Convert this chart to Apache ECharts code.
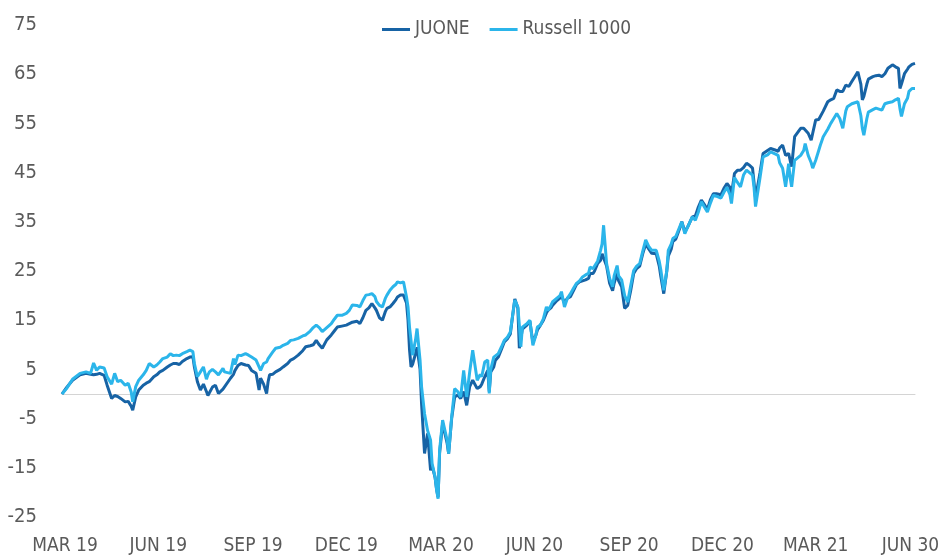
<!DOCTYPE html>
<html>
<head>
<meta charset="utf-8">
<script src="https://cdn.jsdelivr.net/npm/echarts@6/dist/echarts.min.js"></script>
<style>html,body{margin:0;padding:0;background:#fff}#c{width:942px;height:559px}</style>
</head>
<body>
<div id="c"></div>
<script>
// trading day index (0 = start, end of March 2019)
const days = [
  0,3,7,12,16,19,21,23,25,28,
  30,33,35,37,39,42,44,46,47,49,
  51,54,56,58,61,63,65,67,70,72,
  74,76,78,80,83,85,87,88,90,92,
  94,96,97,98,100,102,104,105,107,108,
  112,114,115,117,119,122,124,126,129,131,
  132,134,136,137,138,140,142,145,147,150,
  152,154,157,160,162,165,167,169,171,173,
  176,179,181,183,186,189,191,193,196,198,
  200,202,204,206,208,209,211,213,215,216,
  218,220,222,223,225,227,229,230,231,232,
  233,235,236,238,239,241,243,245,246,248,
  249,250,251,253,256,257,258,259,261,263,
  265,267,269,271,273,276,278,279,281,283,
  284,285,287,288,290,292,294,296,298,300,
  301,303,304,305,306,309,311,313,315,316,
  318,320,322,323,325,326,329,331,332,334,
  336,338,340,342,344,346,348,350,351,353,
  354,356,358,359,360,362,364,366,367,369,
  370,372,374,376,378,380,382,384,386,388,
  390,392,395,397,398,400,402,403,405,406,
  408,411,412,414,416,419,421,423,425,427,
  429,431,433,435,438,440,442,444,445,447,
  449,451,453,455,457,459,460,461,464,466,
  469,471,474,476,477,479,481,483,484,485,
  487,491,493,494,496,498,499,501,503,504,
  506,509,511,513,515,517,519,521,522,523,
  525,527,529,531,532,533,535,536,539,541,
  543,545,547,549,552,554,556,557,558,560,
  562,563,565,567
];

const russell = [
  0,1.1,3.0,4.2,4.5,4.2,6.3,4.8,5.5,5.3,
  3.5,2.0,4.2,2.5,2.8,1.8,2.2,0.4,-1.6,1.5,
  2.8,3.9,4.8,6.2,5.5,5.9,6.5,7.2,7.5,8.2,
  7.8,7.9,7.8,8.2,8.6,8.9,8.6,6.2,3.5,4.5,
  5.5,3.0,3.9,4.5,5.0,4.5,3.9,3.5,5.2,4.5,
  4.2,7.2,6.0,7.9,7.8,8.2,7.9,7.5,6.9,5.5,
  4.8,6.2,6.5,7.2,7.2,8.5,9.3,9.5,9.9,10.3,
  10.9,11.0,11.3,11.8,12.0,12.8,13.5,14.0,13.5,12.7,
  13.5,14.3,15.2,16.0,16.0,16.4,17.0,18.1,18.0,17.7,
  19.0,20.1,20.2,20.4,19.8,18.8,18.0,17.7,19.5,20.1,
  21.1,21.8,22.3,22.8,22.6,22.8,19.7,17.7,13.6,10.9,
  7.9,11.0,13.3,6.9,1.5,-4.0,-7.4,-9.4,-14.1,-16.9,
  -19.5,-21.3,-11.4,-5.3,-9.4,-12.1,-11.8,-4.7,1.1,0.5,
  -0.6,4.8,-0.6,4.5,8.9,2.8,4.0,3.5,6.5,6.9,
  0.1,5.0,7.5,7.8,8.2,9.5,10.9,11.5,12.6,17.0,
  19.1,17.7,14.0,9.6,13.6,14.3,15.0,9.9,12.0,13.6,
  14.0,15.3,17.7,17.0,18.0,18.7,19.5,20.0,20.8,17.7,
  19.5,20.4,21.5,22.5,23.0,23.8,24.2,24.5,25.8,25.5,
  25.1,27.0,29.2,30.5,34.3,26.5,23.5,21.8,24.0,26.1,
  24.0,23.2,20.0,18.7,22.0,25.1,26.0,26.5,29.0,31.3,
  30.0,29.2,29.2,27.0,25.3,21.1,25.0,29.2,30.5,31.6,
  32.0,34.3,35.0,32.6,34.0,36.0,35.3,37.0,39.1,38.0,
  37.0,38.8,40.4,40.2,39.8,41.0,42.0,40.5,38.7,44.0,
  43.0,42.1,44.5,45.5,45.0,44.5,42.0,38.1,44.0,48.2,
  48.6,49.2,48.8,48.5,47.0,45.9,42.1,46.8,44.0,42.1,
  47.5,48.5,49.5,50.9,48.5,47.0,45.9,47.5,49.5,50.5,
  52.3,53.8,55.0,56.0,57.0,56.0,54.0,57.5,58.4,58.5,
  59.0,59.2,59.4,56.6,54.0,52.6,56.0,57.3,57.8,58.1,
  57.9,57.7,59.0,59.2,59.4,59.8,60.1,58.0,56.4,59.0,
  60.1,61.5,62.1,62.1
];

const juone = [
  0,1.3,2.8,3.9,4.2,4.0,3.9,4.0,4.2,3.8,
  1.8,-0.9,-0.3,-0.5,-0.9,-1.6,-1.5,-2.5,-3.3,-0.6,
  0.8,1.8,2.2,2.5,3.5,3.9,4.5,4.8,5.5,5.9,
  6.2,6.2,6.0,6.6,7.2,7.5,7.6,5.5,2.5,0.8,
  2.0,0.5,-0.3,-0.6,1.4,1.8,0.1,-0.3,1.0,1.4,
  3.2,4.0,4.8,5.8,6.2,5.9,5.8,4.8,4.2,0.8,
  3.2,2.0,0.1,2.5,3.9,4.0,4.5,5.0,5.5,6.2,
  6.9,7.2,7.9,8.8,9.6,9.8,10.0,10.9,10.0,9.3,
  11.0,12.0,12.8,13.6,13.8,14.0,14.3,14.6,14.8,14.3,
  15.5,17.0,17.5,18.4,17.5,17.0,15.5,15.0,16.8,17.4,
  17.7,18.4,19.2,19.7,20.1,20.1,18.5,15.0,9.0,5.5,
  6.0,8.2,9.5,5.0,-1.9,-12.1,-8.0,-15.5,-14.5,-17.0,
  -19.4,-21.0,-12.0,-6.0,-10.0,-12.1,-11.8,-5.0,-0.6,-0.2,
  -0.9,0.5,-2.3,1.5,2.8,1.1,1.5,2.0,3.5,4.8,
  0.5,4.5,5.5,6.8,7.5,9.0,10.6,11.2,12.2,17.0,
  19.3,17.5,9.3,9.6,13.2,14.0,14.8,10.5,12.0,13.0,
  14.0,15.0,16.5,17.0,17.5,18.0,19.0,19.5,20.0,18.5,
  19.5,19.8,21.0,22.3,22.8,23.0,23.2,23.5,24.5,24.5,
  25.0,26.5,27.2,28.5,28.5,26.0,22.5,21.0,22.5,24.5,
  23.0,21.8,17.4,18.0,21.0,24.5,25.5,26.0,28.5,30.5,
  29.5,28.6,28.5,26.0,24.0,20.4,25.0,28.0,29.5,31.0,
  31.5,34.0,35.0,33.0,34.0,36.0,36.2,38.0,39.4,38.5,
  37.5,39.5,40.7,40.7,40.5,41.8,42.8,42.0,40.5,44.8,
  45.5,45.5,46.0,46.9,46.5,45.9,43.0,39.8,45.0,48.9,
  49.5,49.9,49.6,49.3,50.0,50.6,48.5,48.9,47.5,46.2,
  52.3,54.0,54.0,54.0,53.0,51.6,53.0,55.7,55.8,56.1,
  57.5,59.4,59.8,60.1,61.8,61.5,61.5,62.8,62.6,62.5,
  63.5,64.5,65.5,63.0,59.8,60.5,63.0,64.0,64.5,64.7,
  64.8,64.5,65.1,66.2,66.9,66.5,66.2,62.1,63.0,65.1,
  66.0,66.5,67.0,67.2
];

// quarter-end positions (trading day index) and their tick labels
const tickDays = [2,64,127,189,252,314,377,439,501,564];
const tickLabels = ['MAR 19','JUN 19','SEP 19','DEC 19','MAR 20','JUN 20','SEP 20','DEC 20','MAR 21','JUN 30'];

const seriesNames = ['JUONE','Russell 1000'];

const FONT = "'DejaVu Sans Condensed','Liberation Sans Narrow',sans-serif";
const TXT = '#5a5a5a';
const DARK = '#1763a5';
const LIGHT = '#2bb5ea';

const chart = echarts.init(document.getElementById('c'), null, {renderer:'canvas'});
chart.setOption({
  animation: false,
  backgroundColor: '#ffffff',
  legend: {
    left: 382, top: 20, padding: 0,
    icon: 'rect', itemWidth: 28, itemHeight: 3, itemGap: 20,
    textStyle: {fontFamily: FONT, fontSize: 19, color: TXT},
    data: seriesNames
  },
  grid: {left: 62, right: 27, top: 25, bottom: 42, outerBoundsMode: 'none'},
  xAxis: [
    {
      type: 'value', min: 0, max: 567,
      axisLine: {show: false, onZero: false},
      axisTick: {show: false},
      splitLine: {show: false},
      axisLabel: {
        customValues: tickDays,
        formatter: v => { const i = tickDays.indexOf(v); return i >= 0 ? tickLabels[i] : ''; },
        fontFamily: FONT, fontSize: 19, color: TXT, margin: 20
      }
    },
    {
      type: 'value', min: 0, max: 567, position: 'top',
      axisLine: {show: true, onZero: true, lineStyle: {color: '#d4d4d4', width: 1}},
      axisTick: {show: false},
      axisLabel: {show: false},
      splitLine: {show: false}
    }
  ],
  yAxis: {
    type: 'value', min: -25, max: 75, interval: 10,
    axisLine: {show: false},
    axisTick: {show: false},
    splitLine: {show: false},
    axisLabel: {fontFamily: FONT, fontSize: 20, color: TXT, margin: 25}
  },
  series: [
    {
      name: seriesNames[0], type: 'line', symbol: 'none', showSymbol: false,
      data: days.map((d, i) => [d, juone[i]]),
      lineStyle: {color: DARK, width: 3}, itemStyle: {color: DARK}
    },
    {
      name: seriesNames[1], type: 'line', symbol: 'none', showSymbol: false,
      data: days.map((d, i) => [d, russell[i]]),
      lineStyle: {color: LIGHT, width: 3}, itemStyle: {color: LIGHT}
    }
  ]
});
</script>
</body>
</html>
